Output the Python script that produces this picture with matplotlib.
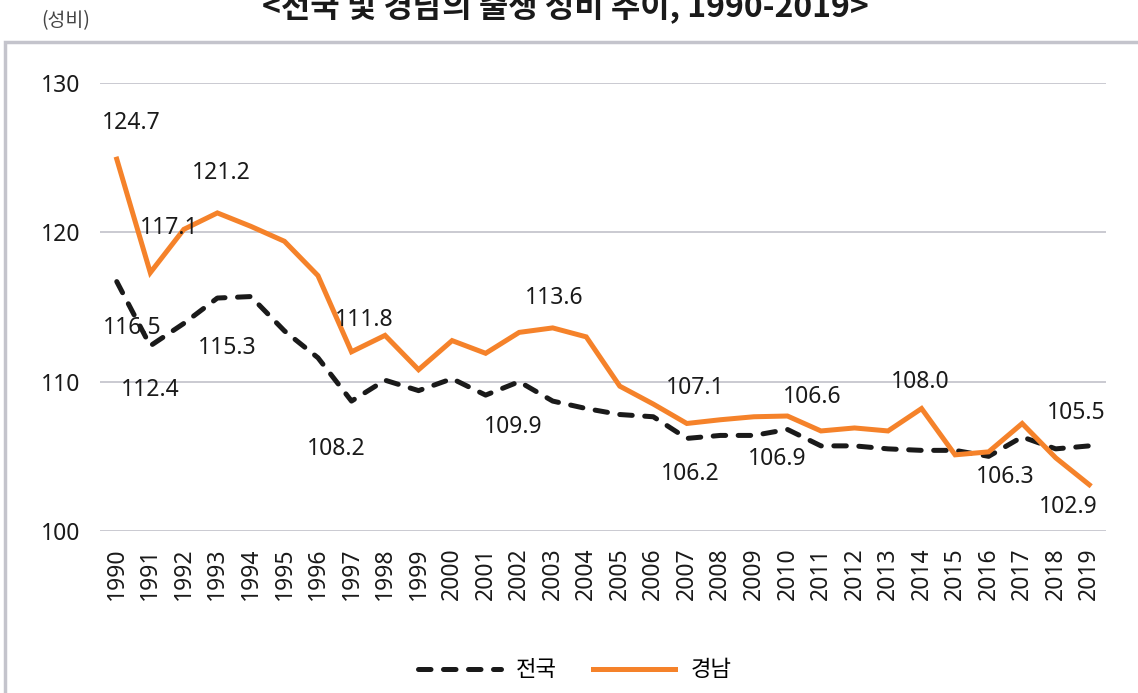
import numpy as np
import matplotlib.pyplot as plt
from matplotlib.patches import Rectangle

plt.rcParams['font.family'] = ['Noto Sans', 'Noto Sans CJK KR', 'DejaVu Sans']

# data
years = [str(y) for y in range(1990, 2020)]
national = [116.7, 112.4, 113.9, 115.6, 115.7, 113.4, 111.6, 108.7, 110.1, 109.4,
            110.2, 109.1, 110.0, 108.7, 108.2, 107.8, 107.65, 106.2, 106.4, 106.4,
            106.8, 105.7, 105.7, 105.5, 105.4, 105.4, 105.0, 106.3, 105.5, 105.7]
gyeongnam = [124.9, 117.3, 120.2, 121.3, 120.4, 119.4, 117.1, 112.0, 113.1, 110.8,
             112.75, 111.9, 113.3, 113.6, 113.0, 109.7, 108.5, 107.2, 107.45, 107.65,
             107.7, 106.7, 106.9, 106.7, 108.2, 105.1, 105.3, 107.2, 104.9, 103.1]
series_names = ['전국', '경남']
yticks = [100, 110, 120, 130]

# data labels: (text, series, year index, dx px, dy px)
labels = [
    ('124.7', 1, 0, 15, 36), ('117.1', 1, 1, 19, 45), ('121.2', 1, 3, 4, 40),
    ('116.5', 0, 0, 15, -46), ('112.4', 0, 1, 0, -44), ('115.3', 0, 3, 10, -50),
    ('111.8', 1, 7, 13, 32), ('108.2', 0, 7, -15, -48), ('113.6', 1, 13, 2, 30),
    ('109.9', 0, 12, -6, -45), ('107.1', 1, 17, 8, 35), ('106.2', 0, 17, 3, -36),
    ('106.6', 1, 20, 25, 19), ('106.9', 0, 20, -10, -30), ('108.0', 1, 24, -1, 27),
    ('106.3', 0, 27, -17, -40), ('105.5', 0, 29, -13, 33), ('102.9', 1, 29, -21, -22),
]

fig = plt.figure(figsize=(11.38, 6.93), dpi=100)
ax = fig.add_axes([100/1138, 1-531/693, 1006/1138, 448/693])

x = np.arange(len(years))
ax.plot(x, national, color='#1a1a1a', lw=3.6, dashes=(2.5, 2.5),
        dash_capstyle='round', solid_joinstyle='round', label=series_names[0], zorder=3)
ax.plot(x, gyeongnam, color='#f5822a', lw=3.6, solid_joinstyle='miter',
        label=series_names[1], zorder=4)

data = [national, gyeongnam]
for txt, s, i, dx, dy in labels:
    ax.annotate(txt, (i, data[s][i]), xytext=(dx, dy), textcoords='offset pixels',
                ha='center', va='center', fontsize=16.5, color='#1a1a1a', zorder=5)

ax.set_xlim(-0.5, len(years)-0.5)
ax.set_ylim(100, 130)
ax.set_yticks(yticks)
ax.set_xticks(x)
ax.set_xticklabels(years, rotation=90)
ax.tick_params(axis='both', length=0, labelsize=16.5, colors='#1a1a1a')
ax.tick_params(axis='y', pad=14)
ax.tick_params(axis='x', pad=12)
ax.grid(axis='y', color='#c6c6ce', lw=1.3)
ax.set_axisbelow(True)
for sp in ax.spines.values():
    sp.set_visible(False)

fig.legend(loc='center', bbox_to_anchor=(575/1138, 1-670/693), ncol=2, frameon=False,
           prop={'family': 'Noto Sans CJK KR', 'size': 16, 'weight': 'medium'},
           handlelength=3.7, handletextpad=0.7, columnspacing=1.6)

fig.text(565/1138, 1-17/693, '<전국 및 경남의 출생 성비 추이, 1990-2019>', ha='center',
         va='baseline', fontsize=23, fontweight='bold', family='Noto Sans CJK KR', color='#1a1a1a')
fig.text(66/1138, 1-21/693, '(성비)', ha='center', va='center', fontsize=14,
         family='Noto Sans CJK KR', color='#444444')

fig.patches.append(Rectangle((5/1138, -0.1), 2, 1.1-42/693, transform=fig.transFigure,
                             fill=False, edgecolor='#c4c4cc', lw=2.5))

fig.savefig('out.png', dpi=100)
